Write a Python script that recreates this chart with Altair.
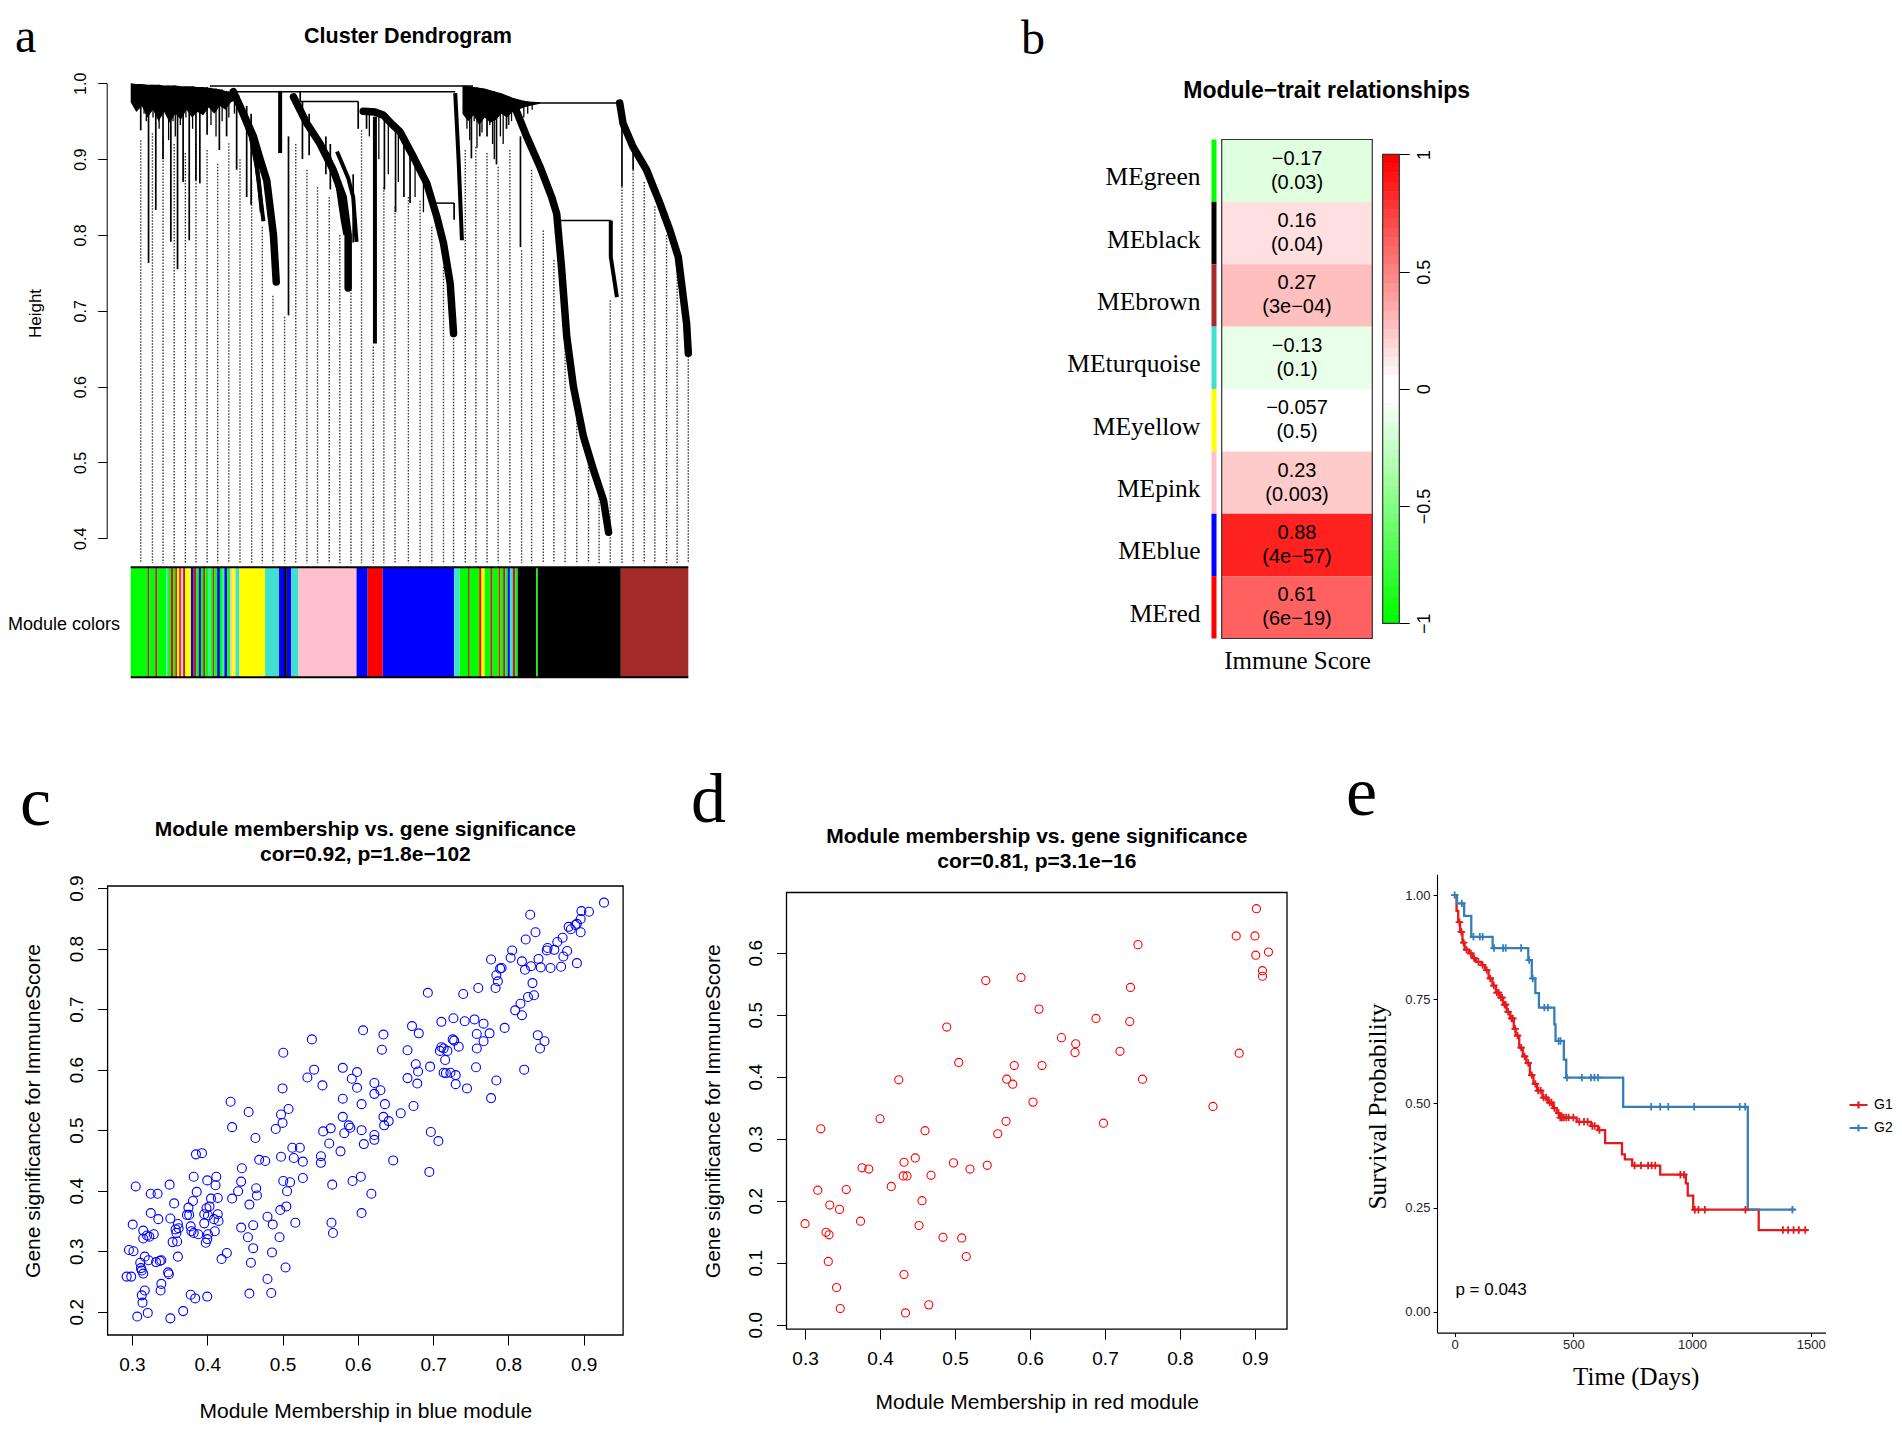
import json
import altair as alt
import numpy as np
import pandas as pd

W, H = 1886, 1414
def P(v):
    return v - 8  # reference pixel -> chart pixel (page margin)

SANS = "Liberation Sans, Arial, Helvetica, sans-serif"
SERIF = "Liberation Serif, Times New Roman, Times, serif"

# ---------------- panel a : cluster dendrogram ----------------
leaf_pos = [1.8, 3.9, 5.8, 7.8, 9.8, 11.7, 13.7, 15.6, 17.6, 19.6, 21.7, 23.6, 25.5, 27.6, 29.6,
            31.6, 33.5, 35.6, 37.5, 39.5, 41.4, 43.5, 45.4, 47.4, 49.8, 51.9, 54.0, 56.1, 57.9, 60.0,
            61.9, 63.9, 65.9, 68.0, 70.1, 71.9, 74.0, 75.9, 77.9, 80.0, 82.1, 84.0, 86.0, 88.1, 90.1,
            92.1, 94.0, 96.1, 98.0, 100.0]
leaf_top = [0.925, 0.934, 0.93, 0.92, 0.908, 0.92, 0.912, 0.894, 0.921, 0.90, 0.872, 0.811, 0.72, 0.692, 0.92,
            0.886, 0.863, 0.85, 0.80, 0.728, 0.938, 0.653, 0.863, 0.837, 0.85, 0.845, 0.811, 0.758, 0.667, 0.912,
            0.916, 0.908, 0.89, 0.912, 0.78, 0.886, 0.806, 0.767, 0.675, 0.58, 0.51, 0.46, 0.714, 0.864, 0.886,
            0.87, 0.838, 0.80, 0.757, 0.644]

massA_x = [0, 1, 2, 3, 4, 5, 6, 7, 8, 9, 10, 11, 12, 13, 14, 15, 16, 17, 18, 19.5]
massA_top = [1.0, 0.999, 0.999, 0.998, 0.998, 0.998, 0.997, 0.997, 0.997, 0.996, 0.996, 0.996, 0.995, 0.995,
             0.994, 0.993, 0.992, 0.99, 0.988, 0.984]
massA_bot = [0.975, 0.962, 0.97, 0.955, 0.965, 0.95, 0.962, 0.948, 0.96, 0.952, 0.965, 0.955, 0.962, 0.958,
             0.968, 0.96, 0.97, 0.965, 0.975, 0.98]
massB_x = [59.5, 60.5, 61.5, 62.5, 63.5, 64.5, 65.5, 66.5, 67.5, 68.5, 69.5, 70.5, 71.5, 73.4]
massB_top = [0.997, 0.996, 0.995, 0.994, 0.993, 0.991, 0.989, 0.987, 0.984, 0.981, 0.979, 0.977, 0.976, 0.975]
massB_bot = [0.96, 0.95, 0.958, 0.945, 0.955, 0.948, 0.952, 0.96, 0.955, 0.962, 0.965, 0.968, 0.97, 0.973]

vert_x = [1.8, 3.2, 4.5, 5.8, 7.2, 8.4, 9.4, 10.5, 11.7, 12.4, 13.7, 15.9, 17.2, 19.0, 20.8, 21.6, 28.3,
          30.4, 30.8, 32.0, 35.0, 35.8, 39.9, 40.8, 42.3, 45.5, 47.5, 49.0, 50.1, 58.0, 61.1, 62.6, 63.9,
          65.6, 67.4, 69.9, 88.1, 90.1]
vert_top = [0.995] * 11 + [0.99, 0.99, 0.985, 0.97, 0.96, 0.93, 0.989, 0.976, 0.96, 0.93, 0.92, 0.88, 0.976,
                           0.962, 0.955, 0.945, 0.93, 0.91, 0.842, 0.994, 0.993, 0.99, 0.987, 0.983, 0.93, 0.974, 0.916]
vert_bot = [0.938, 0.763, 0.833, 0.90, 0.791, 0.755, 0.87, 0.793, 0.872, 0.868, 0.932, 0.912, 0.93, 0.886,
            0.85, 0.84, 0.694, 0.976, 0.90, 0.905, 0.88, 0.86, 0.79, 0.94, 0.94, 0.86, 0.83, 0.85, 0.842, 0.82,
            0.901, 0.93, 0.93, 0.893, 0.94, 0.784, 0.864, 0.886]

hair_x = [0.4, 0.9, 1.3, 2.4, 2.8, 3.6, 4.0, 5.1, 6.4, 6.8, 7.6, 8.0, 8.9, 9.9, 11.1, 12.9, 14.4, 15.3, 16.4,
          17.6, 18.6, 60.3, 60.8, 61.6, 62.1, 63.0, 64.4, 64.9, 65.2, 66.3, 66.8, 67.8, 68.3, 70.5, 71.2, 72.0,
          42.8, 44.5, 46.2, 48.0, 51.0, 52.5]
hair_top = [0.999, 0.999, 0.999, 0.998, 0.998, 0.998, 0.998, 0.998, 0.997, 0.997, 0.997, 0.997, 0.996, 0.996,
            0.996, 0.995, 0.994, 0.993, 0.992, 0.99, 0.988, 0.996, 0.996, 0.995, 0.995, 0.993, 0.991, 0.99,
            0.99, 0.986, 0.985, 0.982, 0.98, 0.977, 0.976, 0.975, 0.962, 0.96, 0.952, 0.94, 0.9, 0.88]
hair_bot = [0.985, 0.975, 0.97, 0.96, 0.95, 0.965, 0.955, 0.94, 0.96, 0.925, 0.95, 0.93, 0.945, 0.955, 0.94,
            0.96, 0.945, 0.93, 0.95, 0.955, 0.96, 0.94, 0.925, 0.95, 0.915, 0.935, 0.945, 0.92, 0.90, 0.93,
            0.92, 0.945, 0.95, 0.955, 0.96, 0.965, 0.93, 0.90, 0.88, 0.87, 0.85, 0.83]

merge_x1 = [14.2, 18.1, 30.4, 69.2, 54.5, 76.4]
merge_x2 = [61.4, 58.2, 40.8, 87.7, 58.0, 86.1]
merge_h = [0.9964, 0.989, 0.976, 0.974, 0.842, 0.819]

L1_x = [18.4, 20.2, 22.0, 23.2, 24.4, 25.6, 26.1]
L1_h = [0.989, 0.96, 0.93, 0.90, 0.872, 0.80, 0.738]
L2_x = [29.2, 31.6, 33.9, 36.3, 38.1, 39.0, 39.0]
L2_h = [0.982, 0.947, 0.921, 0.886, 0.85, 0.80, 0.73]
L3_x = [41.7, 43.8, 45.3, 47.0, 48.3, 50.7, 53.1, 54.9, 56.1, 57.3, 57.9]
L3_h = [0.963, 0.962, 0.958, 0.945, 0.936, 0.903, 0.868, 0.824, 0.789, 0.736, 0.670]
L5_x = [68.6, 71.0, 73.4, 75.5, 76.4, 77.3, 78.2, 79.4, 81.2, 83.0, 84.8, 85.7]
L5_h = [0.974, 0.930, 0.890, 0.850, 0.828, 0.754, 0.666, 0.600, 0.534, 0.490, 0.450, 0.408]
L7_x = [87.7, 88.3, 90.1, 92.5, 94.9, 96.7, 98.2, 99.1, 99.7, 100.0]
L7_h = [0.974, 0.947, 0.916, 0.886, 0.842, 0.806, 0.771, 0.718, 0.683, 0.644]
L1b_x = [19.0, 21.5, 22.6, 23.8]
L1b_h = [0.975, 0.93, 0.89, 0.818]
L1c_x = [19.5, 21.0, 22.2, 23.0, 23.5]
L1c_h = [0.975, 0.95, 0.91, 0.87, 0.83]
L2b_x = [37.0, 39.0, 39.9, 40.5]
L2b_h = [0.91, 0.875, 0.85, 0.791]
L2c_x = [33.0, 35.5, 37.0, 38.0, 38.5]
L2c_h = [0.93, 0.905, 0.87, 0.82, 0.80]
L4a_x = [26.8, 26.8]
L4a_h = [0.99, 0.908]
L3v_x = [43.8, 43.8]
L3v_h = [0.956, 0.657]
L4_x = [58.2, 58.8, 59.4]
L4_h = [0.987, 0.9, 0.793]
L6_x = [86.1, 86.1, 87.2]
L6_h = [0.819, 0.771, 0.718]

seg_edges = [0, 3.0, 3.3, 4.4, 4.8, 6.4, 6.7, 7.2, 7.6, 8.0, 8.3, 8.7, 9.0, 9.4, 9.8, 10.8, 11.2, 11.8, 12.2,
             12.6, 13.0, 13.4, 14.0, 14.3, 14.7, 15.0, 15.5, 16.0, 16.5, 16.8, 17.3, 17.8, 18.2, 18.8, 19.5,
             24.1, 26.6, 27.5, 28.0, 28.8, 30.1, 40.5, 42.5, 45.2, 58.0, 59.0, 60.5, 60.8, 62.5, 62.9, 63.5,
             64.5, 64.9, 66.0, 66.3, 66.8, 67.2, 67.6, 68.0, 68.5, 69.0, 69.4, 72.7, 73.0, 87.9, 100]
seg_names = ["green", "brown", "green", "brown", "green", "turquoise", "green", "red", "green", "brown",
             "yellow", "red", "pink", "brown", "yellow", "blue", "brown", "green", "blue", "green",
             "brown", "green", "turquoise", "green", "brown", "green", "blue", "green", "turquoise", "blue",
             "green", "pink", "yellow", "turquoise", "yellow", "turquoise", "blue", "black", "blue", "turquoise",
             "pink", "blue", "red", "blue", "turquoise", "green", "brown", "green", "red", "yellow",
             "green", "brown", "green", "red", "green", "brown", "green", "blue", "turquoise", "brown",
             "green", "black", "green", "black", "brown"]
RCOL = {"green": "#00FF00", "brown": "#A52A2A", "turquoise": "#40E0D0", "red": "#FF0000",
        "yellow": "#FFFF00", "pink": "#FFC0CB", "blue": "#0000FF", "black": "#000000"}

# ---------------- panel b : module-trait heatmap ----------------
modules = ["MEgreen", "MEblack", "MEbrown", "MEturquoise", "MEyellow", "MEpink", "MEblue", "MEred"]
module_cols = ["green", "black", "brown", "turquoise", "yellow", "pink", "blue", "red"]
cors = [-0.17, 0.16, 0.27, -0.13, -0.057, 0.23, 0.88, 0.61]
cor_text = ["\u22120.17", "0.16", "0.27", "\u22120.13", "\u22120.057", "0.23", "0.88", "0.61"]
p_text = ["(0.03)", "(0.04)", "(3e\u221204)", "(0.1)", "(0.5)", "(0.003)", "(4e\u221257)", "(6e\u221219)"]

# ---------------- panel c : blue module scatter ----------------
c_mm = [.927, .907, .897, .896, .896, .829, .836, .823, .805, .803, .777, .818, .822, .830, .840, .843, .856, .851, .852, .861, .865, .872, .873, .878, .870, .880, .883, .889, .891, .891,
        .784, .789, .791, .786, .783, .832, .826, .834, .816, .809, .818, .760, .740, .693, .795, .839, .842, .848, .821, .784, .777, .757, .758, .758, .775, .767, .767, .755, .742, .727,
        .734, .726, .728, .709, .711, .714, .719, .711, .716, .714, .717, .723, .730, .730, .745, .696, .680, .677, .679, .666, .672, .681, .666, .674, .697, .707, .695, .647, .657, .634,
        .632, .607, .622, .622, .630, .636, .634, .635, .641, .622, .622, .608, .605, .605, .599, .580, .592, .599, .580, .580, .582, .588, .590, .577, .562, .564, .554, .553, .542, .539,
        .533, .551, .551, .527, .527, .523, .513, .515, .508, .500, .498, .501, .500, .491, .498, .477, .469, .464, .455, .433, .431, .446, .445, .441, .433, .465, .466, .456, .501, .510,
        .506, .505, .497, .487, .461, .445, .454, .461, .458, .480, .496, .486, .480, .504, .517, .566, .565, .567, .593, .604, .618, .605, .456, .485, .426, .419, .414, .415, .414, .412,
        .411, .405, .403, .399, .401, .409, .410, .401, .400, .398, .400, .393, .385, .382, .386, .381, .376, .375, .378, .379, .382, .388, .400, .378, .384, .368, .351, .348, .349, .339,
        .338, .339, .337, .332, .335, .334, .325, .325, .329, .323, .320, .315, .315, .317, .322, .311, .312, .313, .315, .317, .313, .314, .307, .321, .296, .302, .301, .305, .293, .299,
        .350, .356, .361, .358, .359, .362, .360, .361, .354, .351, .373, .396, .396]
c_gs = [.876, .861, .862, .849, .827, .856, .827, .815, .797, .785, .782, .779, .765, .771, .783, .769, .768, .797, .801, .798, .811, .818, .787, .796, .770, .836, .832, .839, .841, .776,
        .756, .767, .768, .746, .735, .743, .720, .723, .709, .698, .690, .735, .725, .727, .669, .657, .635, .647, .600, .582, .553, .604, .635, .659, .660, .676, .647, .683, .680, .685,
        .638, .650, .648, .631, .637, .635, .631, .679, .616, .595, .594, .595, .591, .576, .569, .605, .597, .609, .577, .632, .672, .660, .586, .540, .497, .482, .431, .450, .528, .658,
        .633, .665, .578, .560, .566, .543, .522, .508, .515, .492, .484, .477, .500, .543, .596, .603, .585, .570, .552, .522, .495, .508, .504, .465, .478, .503, .498, .574, .600, .650,
        .587, .457, .446, .448, .421, .471, .471, .454, .535, .512, .526, .628, .569, .502, .456, .449, .451, .487, .530, .505, .547, .437, .415, .399, .387, .404, .392, .377, .416, .414,
        .399, .374, .368, .344, .343, .339, .323, .305, .281, .357, .323, .298, .254, .273, .347, .410, .347, .330, .416, .423, .395, .363, .230, .231, .297, .287, .361, .350, .388, .423,
        .409, .387, .374, .371, .359, .353, .333, .328, .320, .314, .417, .462, .460, .423, .398, .383, .360, .372, .341, .333, .330, .328, .225, .228, .222, .201, .189, .265, .262, .246,
        .235, .285, .284, .282, .353, .395, .395, .363, .328, .324, .326, .334, .321, .291, .285, .281, .272, .268, .263, .235, .227, .215, .192, .198, .302, .300, .344, .407, .258, .258,
        .410, .379, .345, .336, .330, .338, .316, .291, .315, .354, .360, .346, .361]

# ---------------- panel d : red module scatter ----------------
d_mm = [.902, .875, .900, .918, .901, .910, .910, .744, .541, .588, .734, .612, .489, .688, .733, .642, .661, .660, .720, .879,
        .505, .579, .616, .425, .569, .577, .750, .604, .844, .400, .321, .460, .568, .698, .557, .447, .432, .498, .543, .376,
        .385, .520, .431, .436, .468, .415, .317, .355, .456, .333, .346, .300, .374, .452, .328, .332, .484, .509, .515, .331,
        .432, .342, .347, .465, .434]
d_gs = [.671, .627, .627, .601, .596, .571, .562, .613, .555, .560, .544, .509, .480, .494, .489, .463, .453, .439, .441, .438,
        .423, .418, .418, .395, .396, .388, .396, .359, .352, .332, .316, .313, .328, .325, .308, .269, .262, .261, .257, .253,
        .251, .251, .240, .240, .241, .223, .217, .218, .200, .193, .186, .163, .167, .160, .149, .145, .141, .140, .110, .102,
        .081, .060, .026, .032, .019]

# ---------------- panel e : Kaplan-Meier ----------------
g1_t = [0, 8, 15, 23, 33, 42, 60, 75, 90, 113, 128, 143, 159, 174, 189, 204, 219, 234, 249, 257, 272, 287, 302,
        317, 332, 347, 370, 393, 415, 430, 441, 514, 574, 604, 634, 705, 717, 748, 866, 974, 982, 1005, 1281]
g1_s = [1.0, 0.962, 0.935, 0.912, 0.886, 0.869, 0.86, 0.849, 0.84, 0.832, 0.82, 0.80, 0.783, 0.766, 0.754, 0.737,
        0.72, 0.704, 0.679, 0.663, 0.634, 0.613, 0.597, 0.568, 0.547, 0.531, 0.514, 0.502, 0.489, 0.477, 0.466,
        0.456, 0.446, 0.436, 0.405, 0.378, 0.366, 0.351, 0.329, 0.308, 0.279, 0.245, 0.196]
g1_end = 1488
g1_cens = [20, 28, 38, 50, 68, 82, 100, 118, 135, 150, 165, 178, 185, 195, 200, 210, 215, 225, 240, 245, 255, 265,
           280, 295, 310, 325, 340, 352, 362, 375, 385, 400, 408, 420, 438, 445, 452, 460, 470, 480, 500, 525, 545,
           560, 580, 590, 610, 758, 785, 815, 830, 845, 951, 966, 1012, 1027, 1054, 1225, 1383, 1405, 1428, 1450, 1477]
g2_t = [0, 10, 40, 70, 160, 310, 325, 340, 355, 420, 425, 460, 470, 710, 1235]
g2_s = [1.0, 0.98, 0.95, 0.90, 0.873, 0.844, 0.80, 0.765, 0.73, 0.69, 0.65, 0.605, 0.562, 0.492, 0.245]
g2_end = 1435
g2_cens = [0, 30, 79, 106, 118, 166, 204, 215, 280, 314, 329, 378, 393, 438, 446, 473, 536, 574, 589, 604, 828,
           866, 900, 1009, 1201, 1224, 1423]
groups = ["G1", "G2"]
group_colors = ["#E41A1C", "#377EB8"]


# ======================= helpers =======================
def lin(domain, rng):
    return alt.Scale(domain=list(domain), range=list(rng), zero=False, nice=False)


def label(text, x, y, size, font=SANS, weight="normal", align="center", baseline="middle"):
    return alt.Chart(pd.DataFrame({"t": [text]})).mark_text(
        font=font, fontSize=size, fontWeight=weight, align=align, baseline=baseline, color="black"
    ).encode(x=alt.value(x), y=alt.value(y), text="t:N")


def rdom(v):
    lo, hi = min(v), max(v)
    r = hi - lo
    return [lo - 0.04 * r, hi + 0.04 * r]


def curves(items):
    rows = []
    for gid, xs, hs in items:
        for i, (x, h) in enumerate(zip(xs, hs)):
            rows.append({"g": gid, "i": i, "x": x, "h": h})
    return pd.DataFrame(rows)


# ======================= panel a =======================
xa = lin([0, 100], [P(130.7), P(688.3)])
ya = lin([0.4, 1.0], [P(538.3), P(83.3)])
ya_axis = alt.Axis(orient="left", offset=-P(106.7), values=[0.4, 0.5, 0.6, 0.7, 0.8, 0.9, 1.0], format=".1f",
                   grid=False, tickSize=9, tickColor="black", domainColor="black", labelAngle=-90,
                   labelAlign="center", labelBaseline="bottom", labelPadding=9, labelFont=SANS,
                   labelFontSize=16, labelColor="black", title="Height", titleFont=SANS, titleFontSize=17,
                   titleFontWeight="normal", titleColor="black", titleAngle=-90, titleAlign="center",
                   titleBaseline="middle", titleX=35.7 - 106.7, titleY=P(313))
AX = alt.X("x:Q", scale=xa, axis=None)
AY = alt.Y("h:Q", scale=ya, axis=ya_axis)

leaves = pd.DataFrame({"x": leaf_pos, "h": leaf_top})
dots = alt.Chart(leaves).mark_rule(strokeDash=[1.5, 1.5], color="#3a3a3a", strokeWidth=1.4).encode(
    x=AX, y=AY, y2=alt.datum(0.367))

mass = pd.concat([
    pd.DataFrame({"g": "A", "x": massA_x, "h": massA_top, "h2": massA_bot}),
    pd.DataFrame({"g": "B", "x": massB_x, "h": massB_top, "h2": massB_bot}),
])
mass_l = alt.Chart(mass).mark_area(color="black").encode(x=AX, y=AY, y2="h2:Q", detail="g:N")

verts = pd.DataFrame({"x": vert_x, "h": vert_top, "h2": vert_bot})
vert_l = alt.Chart(verts).mark_rule(color="black", strokeWidth=1.7).encode(x=AX, y=AY, y2="h2:Q")
hairs = pd.DataFrame({"x": hair_x, "h": hair_top, "h2": hair_bot})
hair_l = alt.Chart(hairs).mark_rule(color="black", strokeWidth=1.3).encode(x=AX, y=AY, y2="h2:Q")

merges = pd.DataFrame({"x": merge_x1, "x2": merge_x2, "h": merge_h})
merge_l = alt.Chart(merges).mark_rule(color="black", strokeWidth=1.5).encode(x=AX, x2="x2:Q", y=AY)

thick = curves([("L1", L1_x, L1_h), ("L2", L2_x, L2_h), ("L3", L3_x, L3_h), ("L5", L5_x, L5_h), ("L7", L7_x, L7_h)])
thin = curves([("L1b", L1b_x, L1b_h), ("L1c", L1c_x, L1c_h), ("L2b", L2b_x, L2b_h), ("L2c", L2c_x, L2c_h),
               ("L4a", L4a_x, L4a_h), ("L3v", L3v_x, L3v_h), ("L4", L4_x, L4_h), ("L6", L6_x, L6_h)])
thick_l = alt.Chart(thick).mark_line(color="black", strokeWidth=7.5, strokeJoin="round", strokeCap="round").encode(
    x=AX, y=AY, detail="g:N", order="i:Q")
thin_l = alt.Chart(thin).mark_line(color="black", strokeWidth=4, strokeJoin="round").encode(
    x=AX, y=AY, detail="g:N", order="i:Q")

segs = pd.DataFrame({"x": seg_edges[:-1], "x2": seg_edges[1:], "col": [RCOL[c] for c in seg_names]})
bar_l = alt.Chart(segs).mark_rect().encode(x=AX, x2="x2:Q", y=alt.value(P(567.3)), y2=alt.value(P(677.3)),
                                          color=alt.Color("col:N", scale=None))
one = pd.DataFrame({"k": [0]})
bar_top = alt.Chart(one).mark_rule(color="black", strokeWidth=2).encode(
    x=alt.datum(0, scale=xa, axis=None), x2=alt.datum(100), y=alt.value(P(567.3)))
bar_bot = alt.Chart(one).mark_rule(color="black", strokeWidth=2).encode(
    x=alt.datum(0, scale=xa, axis=None), x2=alt.datum(100), y=alt.value(P(677.3)))

panel_a = alt.layer(dots, mass_l, vert_l, hair_l, merge_l, thin_l, thick_l, bar_l, bar_top, bar_bot)

# ======================= panel b =======================
half = 25
red_c = np.concatenate([np.linspace(0, 1, half), np.ones(half + 1)])
green_c = np.concatenate([np.ones(half + 1), np.linspace(1, 0, half)])
blue_c = np.concatenate([np.linspace(0, 1, half), [1.0], np.linspace(1, 0, half)])
gwr = ["#%02X%02X%02X" % (int(r * 255 + 0.5), int(g * 255 + 0.5), int(b * 255 + 0.5))
       for r, g, b in zip(red_c, green_c, blue_c)]
cor_scale = alt.Scale(type="quantize", domain=[-1, 1], range=gwr)

xb = lin([0, 1], [P(1221.7), P(1372.3)])
yb = lin([0, 8], [P(139.5), P(638.5)])
yb_axis = alt.Axis(orient="left", offset=-P(1200), values=[i + 0.5 for i in range(8)],
                   labelExpr=json.dumps(modules) + "[floor(datum.value)]", domain=False, ticks=False,
                   tickSize=0, labelPadding=0, labelAlign="right", labelBaseline="middle", labelOffset=6,
                   labelFont=SERIF, labelFontSize=25.5, labelColor="black", title=None, grid=False)
xb_axis = alt.Axis(orient="bottom", offset=P(638.5) - H, labels=False, ticks=False, domain=False, grid=False,
                   title="Immune Score", titleFont=SERIF, titleFontSize=25, titleFontWeight="normal",
                   titleColor="black", titleX=P(1297), titleY=22, titleBaseline="middle", titleAlign="center")

cells = pd.DataFrame({
    "r0": list(range(8)), "r1": [i + 1 for i in range(8)], "rm": [i + 0.5 for i in range(8)],
    "c0": [0] * 8, "c1": [1] * 8, "cm": [0.5] * 8,
    "cor": cors, "lab": [a + "\n" + b for a, b in zip(cor_text, p_text)],
    "mcol": [RCOL[c] for c in module_cols],
})
cell_l = alt.Chart(cells).mark_rect().encode(
    x=alt.X("c0:Q", scale=xb, axis=xb_axis), x2="c1:Q",
    y=alt.Y("r0:Q", scale=yb, axis=yb_axis), y2="r1:Q",
    color=alt.Color("cor:Q", scale=cor_scale, legend=None))
strip_l = alt.Chart(cells).mark_rect().encode(
    x=alt.value(P(1211.5)), x2=alt.value(P(1216.5)),
    y=alt.Y("r0:Q", scale=yb, axis=yb_axis), y2="r1:Q",
    color=alt.Color("mcol:N", scale=None))
frame_b = alt.Chart(one).mark_rect(filled=False, stroke="#333333", strokeWidth=1.2).encode(
    x=alt.datum(0, scale=xb, axis=xb_axis), x2=alt.datum(1), y=alt.datum(0, scale=yb, axis=yb_axis), y2=alt.datum(8))
text_b = alt.Chart(cells).mark_text(font=SANS, fontSize=20, lineBreak="\n", lineHeight=24, color="black",
                                    align="center", baseline="middle", dy=-12).encode(
    x=alt.X("cm:Q", scale=xb, axis=xb_axis), y=alt.Y("rm:Q", scale=yb, axis=yb_axis), text="lab:N")
panel_b = alt.layer(cell_l, strip_l, frame_b, text_b)

# colour bar
yk = lin([-1, 1], [P(623.3), P(154.4)])
edges = np.linspace(-1, 1, len(gwr) + 1)
grad = pd.DataFrame({"lo": edges[:-1], "hi": edges[1:], "v": (edges[:-1] + edges[1:]) / 2})
cb_axis = alt.Axis(orient="right", offset=P(1399.3) - W, values=[-1, -0.5, 0, 0.5, 1], format="~g", tickSize=10,
                   tickColor="black", labelAngle=-90, labelAlign="center", labelBaseline="top", labelPadding=6,
                   labelFontSize=18, labelFont=SANS, labelColor="black", domain=False, grid=False, title=None)
grad_l = alt.Chart(grad).mark_rect(strokeWidth=0.6).encode(
    x=alt.value(P(1382.7)), x2=alt.value(P(1399.3)),
    y=alt.Y("lo:Q", scale=yk, axis=cb_axis), y2="hi:Q",
    color=alt.Color("v:Q", scale=cor_scale, legend=None),
    stroke=alt.Stroke("v:Q", scale=cor_scale, legend=None))
frame_k = alt.Chart(one).mark_rect(filled=False, stroke="#333333", strokeWidth=1.2).encode(
    x=alt.value(P(1382.7)), x2=alt.value(P(1399.3)), y=alt.datum(-1, scale=yk, axis=cb_axis), y2=alt.datum(1))
colorbar = alt.layer(grad_l, frame_k)


# ======================= panels c & d =======================
def scatter(mm, gs, box, color, size, xticks, yticks, xtitle, ytitle_x, xtitle_y):
    left, top, right, bottom = box
    xd, yd = rdom(mm), rdom(gs)
    xs = lin(xd, [P(left), P(right)])
    ys = lin(yd, [P(bottom), P(top)])
    xax = alt.Axis(orient="bottom", offset=P(bottom) - H, values=xticks, format=".1f", tickSize=10,
                   tickColor="black", domain=False, grid=False, labelPadding=10, labelFontSize=19,
                   labelFont=SANS, labelColor="black", title=xtitle, titleFont=SANS, titleFontSize=21,
                   titleFontWeight="normal", titleColor="black", titleX=P((left + right) / 2), titleY=xtitle_y,
                   titleBaseline="middle", titleAlign="center")
    yax = alt.Axis(orient="left", offset=-P(left), values=yticks, format=".1f", tickSize=10, tickColor="black",
                   domain=False, grid=False, labelAngle=-90, labelAlign="center", labelBaseline="bottom",
                   labelPadding=11, labelFontSize=19, labelFont=SANS, labelColor="black",
                   title="Gene significance for ImmuneScore", titleFont=SANS, titleFontSize=21,
                   titleFontWeight="normal", titleColor="black", titleAngle=-90, titleAlign="center",
                   titleBaseline="middle", titleX=ytitle_x - left, titleY=P((top + bottom) / 2))
    pts = pd.DataFrame({"mm": mm, "gs": gs})
    frame = pd.DataFrame({"x": [xd[0]], "x2": [xd[1]], "y": [yd[0]], "y2": [yd[1]]})
    box_l = alt.Chart(frame).mark_rect(filled=False, stroke="black", strokeWidth=1.3).encode(
        x=alt.X("x:Q", scale=xs, axis=xax), x2="x2:Q", y=alt.Y("y:Q", scale=ys, axis=yax), y2="y2:Q")
    pt_l = alt.Chart(pts).mark_point(shape="circle", filled=False, color=color, size=size, strokeWidth=1.1,
                                     opacity=1).encode(
        x=alt.X("mm:Q", scale=xs, axis=xax), y=alt.Y("gs:Q", scale=ys, axis=yax))
    return alt.layer(box_l, pt_l)


panel_c = scatter(c_mm, c_gs, (107.6, 886, 623.1, 1335), "#0000FF", 80,
                  [0.3, 0.4, 0.5, 0.6, 0.7, 0.8, 0.9], [0.2, 0.3, 0.4, 0.5, 0.6, 0.7, 0.8, 0.9],
                  "Module Membership in blue module", 33, 76)
panel_d = scatter(d_mm, d_gs, (786.5, 892.5, 1287, 1329.1), "#FF0000", 66,
                  [0.3, 0.4, 0.5, 0.6, 0.7, 0.8, 0.9], [0.0, 0.1, 0.2, 0.3, 0.4, 0.5, 0.6],
                  "Module Membership in red module", 713, 73)

# ======================= panel e =======================
tmax = max(g1_end, g2_end)
xe = lin([-0.05 * tmax, 1.05 * tmax], [P(1437.0), P(1825.5)])
ye = lin([-0.05, 1.05], [P(1332.6), P(874.3)])
xe_axis = alt.Axis(orient="bottom", offset=P(1332.6) - H, values=[0, 500, 1000, 1500], format="d", tickSize=4,
                   labelPadding=2, labelFontSize=13, labelFont=SANS, labelColor="#222222", domainColor="black",
                   domainWidth=1.1, tickColor="black", grid=False, title="Time (Days)", titleFont=SERIF,
                   titleFontSize=25, titleFontWeight="normal", titleColor="black", titleX=P(1635.7),
                   titleY=1376.5 - 1332.6, titleBaseline="middle", titleAlign="center")
ye_axis = alt.Axis(orient="left", offset=-P(1437.0), values=[0, 0.25, 0.5, 0.75, 1.0], format=".2f", tickSize=4,
                   labelPadding=3, labelFontSize=13, labelFont=SANS, labelColor="#222222", domainColor="black",
                   domainWidth=1.1, tickColor="black", grid=False, title="Survival Probability",
                   titleFont=SERIF, titleFontSize=25.5, titleFontWeight="normal", titleColor="black",
                   titleAngle=-90, titleAlign="center", titleBaseline="middle", titleX=1377.6 - 1437.0,
                   titleY=P(1106))
km_rows = []
cens_rows = []
for gname, ts, ss, tend, cens in [("G1", g1_t, g1_s, g1_end, g1_cens), ("G2", g2_t, g2_s, g2_end, g2_cens)]:
    for t, s in zip(ts + [tend], ss + [ss[-1]]):
        km_rows.append({"grp": gname, "t": t, "s": s})
    idx = np.searchsorted(np.array(ts), np.array(cens), side="right") - 1
    for c, k in zip(cens, idx):
        cens_rows.append({"grp": gname, "t": c, "s": ss[k]})
km = pd.DataFrame(km_rows)
cz = pd.DataFrame(cens_rows)
grp_scale = alt.Scale(domain=groups, range=group_colors)
km_legend = alt.Legend(orient="none", legendX=P(1848), legendY=P(1094.5), title=None,
                       symbolType="M-1,0L1,0M0,-0.4L0,0.4", symbolSize=324, symbolStrokeWidth=2.2,
                       symbolFillColor="transparent", labelFontSize=14, labelFont=SANS, labelColor="black",
                       labelOffset=5, rowPadding=4, padding=0, labelLimit=60)
km_l = alt.Chart(km).mark_line(interpolate="step-after", strokeWidth=2.3).encode(
    x=alt.X("t:Q", scale=xe, axis=xe_axis), y=alt.Y("s:Q", scale=ye, axis=ye_axis),
    color=alt.Color("grp:N", scale=grp_scale, legend=km_legend))
cz_l = alt.Chart(cz).mark_point(shape="M-1,0L1,0M0,-1L0,1", filled=False, size=56, strokeWidth=1.8,
                                opacity=1).encode(
    x=alt.X("t:Q", scale=xe, axis=xe_axis), y=alt.Y("s:Q", scale=ye, axis=ye_axis),
    color=alt.Color("grp:N", scale=grp_scale, legend=None))
panel_e = alt.layer(km_l, cz_l)

# ======================= text annotations =======================
texts = [
    label("a", P(15), P(52), 48, font=SERIF, align="left", baseline="alphabetic"),
    label("Cluster Dendrogram", P(408), P(37), 21.5, weight="bold"),
    label("Module colors", P(120), P(625), 18, align="right"),
    label("b", P(1021), P(54), 48, font=SERIF, align="left", baseline="alphabetic"),
    label("Module\u2212trait relationships", P(1326.7), P(91.3), 23, weight="bold"),
    label("c", P(20), P(825), 70, font=SERIF, align="left", baseline="alphabetic"),
    label("Module membership vs. gene significance", P(365.4), P(830), 21, weight="bold"),
    label("cor=0.92, p=1.8e\u2212102", P(365.4), P(855), 21, weight="bold"),
    label("d", P(691), P(822), 70, font=SERIF, align="left", baseline="alphabetic"),
    label("Module membership vs. gene significance", P(1036.8), P(837), 21, weight="bold"),
    label("cor=0.81, p=3.1e\u221216", P(1036.8), P(862), 21, weight="bold"),
    label("e", P(1346), P(815), 70, font=SERIF, align="left", baseline="alphabetic"),
    label("p = 0.043", P(1455.4), P(1290.4), 17, align="left"),
]

chart = alt.layer(panel_a, panel_b, colorbar, panel_c, panel_d, panel_e, *texts).resolve_scale(
    x="independent", y="independent", color="independent", stroke="independent"
).resolve_axis(x="independent", y="independent").resolve_legend(color="independent").properties(
    width=W, height=H, autosize=alt.AutoSizeParams(type="none"), padding=0, background="white"
).configure_view(stroke=None)

chart.save("out.html", embed_options={"renderer": "svg", "actions": False})
